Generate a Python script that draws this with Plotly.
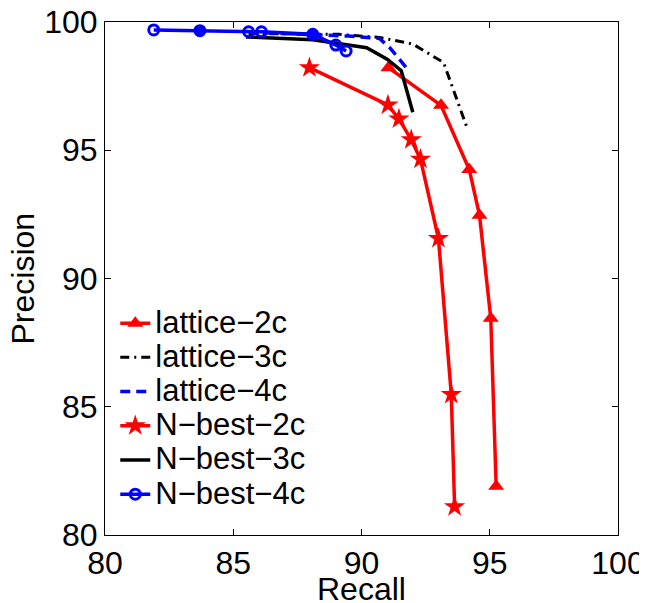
import plotly.graph_objects as go

# ---- data ----
lattice2c_recall = [91.05, 93.1, 94.2, 94.6, 95.04, 95.25]
lattice2c_prec = [98.22, 96.75, 94.25, 92.47, 88.45, 81.9]

lattice3c_recall = [85.6, 88.1, 89.1, 90.7, 92.0, 93.2, 94.15]
lattice3c_prec = [99.55, 99.52, 99.52, 99.4, 99.14, 98.42, 95.78]

lattice4c_recall = [85.6, 88.1, 89.5, 90.7, 91.1, 91.8]
lattice4c_prec = [99.6, 99.52, 99.45, 99.36, 99.0, 98.16]

nbest2c_recall = [87.97, 91.03, 91.46, 91.94, 92.3, 93.0, 93.5, 93.63]
nbest2c_prec = [98.22, 96.77, 96.22, 95.41, 94.65, 91.56, 85.48, 81.1]

nbest3c_recall = [85.5, 88.1, 90.2, 91.0, 91.55, 92.0]
nbest3c_prec = [99.42, 99.31, 99.0, 98.55, 98.1, 96.48]

nbest4c_recall = [81.9, 83.7, 85.6, 86.1, 88.1, 89.0, 89.4]
nbest4c_prec = [99.69, 99.66, 99.62, 99.62, 99.52, 99.1, 98.87]

series_names = ["lattice\u22122c", "lattice\u22123c", "lattice\u22124c",
                "N\u2212best\u22122c", "N\u2212best\u22123c", "N\u2212best\u22124c"]

x_title = "Recall"
y_title = "Precision"
x_ticks = [80, 85, 90, 95, 100]
y_ticks = [80, 85, 90, 95, 100]

# ---- styles ----
FONT = "Liberation Sans, Arial, Helvetica, sans-serif"
RED = "#ff0000"
BLUE = "#0000ff"
BLACK = "#000000"
nbest4c_symbols = ["circle-open", "circle", "circle-open", "circle-open",
                   "circle", "circle-open", "circle-open"]


def big(name):
    return '<span style="font-size:31px">' + name + '</span>'


fig = go.Figure()

fig.add_trace(go.Scatter(
    x=lattice2c_recall, y=lattice2c_prec, name=big(series_names[0]),
    mode="lines+markers",
    line=dict(color=RED, width=3.5),
    marker=dict(symbol="triangle-up", size=14, color=RED)))

fig.add_trace(go.Scatter(
    x=lattice3c_recall, y=lattice3c_prec, name=big(series_names[1]),
    mode="lines",
    line=dict(color=BLACK, width=3, dash="9px,5px,2px,5px")))

fig.add_trace(go.Scatter(
    x=lattice4c_recall, y=lattice4c_prec, name=big(series_names[2]),
    mode="lines",
    line=dict(color=BLUE, width=3.5, dash="10px,6px")))

fig.add_trace(go.Scatter(
    x=nbest2c_recall, y=nbest2c_prec, name=big(series_names[3]),
    mode="lines+markers",
    line=dict(color=RED, width=3.5),
    marker=dict(symbol="star", size=16, color=RED)))

fig.add_trace(go.Scatter(
    x=nbest3c_recall, y=nbest3c_prec, name=big(series_names[4]),
    mode="lines",
    line=dict(color=BLACK, width=3.5)))

fig.add_trace(go.Scatter(
    x=nbest4c_recall, y=nbest4c_prec, name=big(series_names[5]),
    mode="lines+markers",
    line=dict(color=BLUE, width=3.5),
    marker=dict(symbol=nbest4c_symbols, size=10, color=BLUE,
                line=dict(color=BLUE, width=3))))

axis_common = dict(
    showline=True, linecolor="black", linewidth=1, mirror="ticks",
    ticks="inside", ticklen=6, tickcolor="black", tickwidth=1,
    showgrid=False, zeroline=False, ticklabeloverflow="allow",
    tickfont=dict(family=FONT, size=32, color="black"),
)

fig.update_xaxes(range=[80, 100], tickvals=x_ticks, ticktext=[str(v) for v in x_ticks],
                 **axis_common)
fig.update_yaxes(range=[80, 100], tickvals=y_ticks, ticktext=[str(v) for v in y_ticks],
                 **axis_common)

# axis titles placed as annotations so they can sit at the very edge of the page
title_font = dict(family=FONT, size=32, color="black")
fig.add_annotation(text=x_title, xref="paper", yref="paper", x=0.5, y=0,
                   xanchor="center", yanchor="middle", yshift=-54,
                   showarrow=False, font=title_font)
fig.add_annotation(text=y_title, xref="paper", yref="paper", x=0, y=0.5,
                   xanchor="center", yanchor="middle", xshift=-83, textangle=-90,
                   showarrow=False, font=title_font)

# page body has an 8px default margin, so the figure is sized/offset for it
fig.update_layout(
    width=639, height=595,
    margin=dict(l=97, r=29, t=14, b=68, autoexpand=False),
    paper_bgcolor="white", plot_bgcolor="white",
    font=dict(family=FONT, size=32, color="black"),
    showlegend=True,
    legend=dict(x=0.02, y=0.035, xanchor="left", yanchor="bottom",
                bgcolor="rgba(0,0,0,0)", borderwidth=0,
                font=dict(family=FONT, size=24, color="black"),
                itemwidth=30, tracegroupgap=0),
)

fig.write_html("out.html")
